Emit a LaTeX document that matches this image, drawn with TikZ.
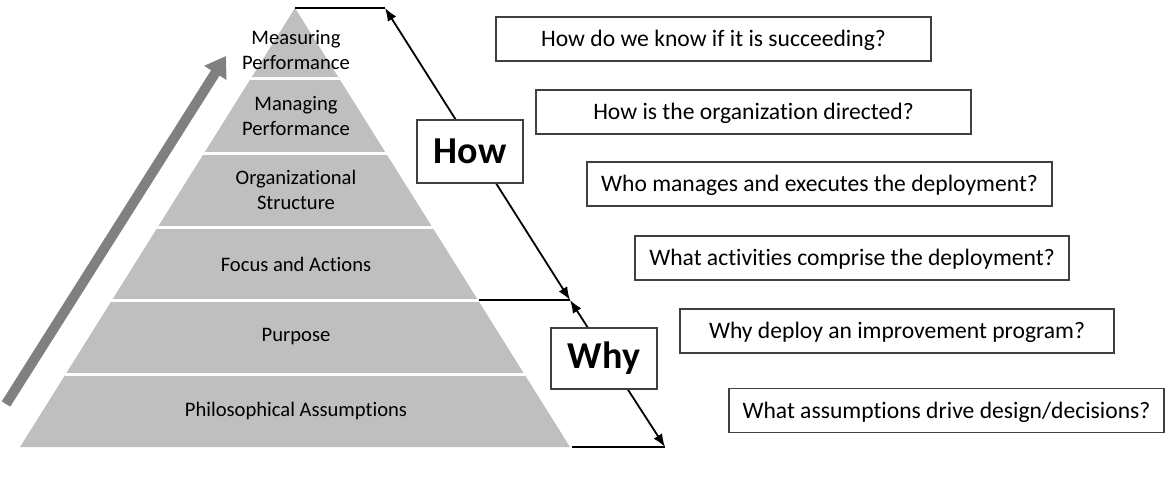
\documentclass[tikz,border=0pt]{standalone}
\usepackage{fontspec}
\setmainfont{Carlito}[Ligatures={NoCommon}]
\usetikzlibrary{arrows.meta}
\definecolor{pyr}{HTML}{BFBFBF}
\definecolor{garrow}{HTML}{808080}
\definecolor{boxline}{HTML}{3F3F3F}
\tikzset{
  qbox/.style={draw=boxline, line width=1.3pt, fill=white, minimum height=44pt, inner sep=0pt, text height=20.2pt, text depth=5pt, font=\fontsize{23.6}{28}\selectfont},
  hwbox/.style={draw=boxline, line width=1.5pt, fill=white, minimum width=106pt, inner sep=0pt, font=\fontsize{38}{44}\selectfont\bfseries},
  layerlabel/.style={align=center, font=\fontsize{20.6}{25}\selectfont, inner sep=0pt},
  thinline/.style={draw=black, line width=1.2pt},
  dblarrow/.style={draw=black, line width=1.8pt, {Latex[length=13pt,width=10pt]}-{Latex[length=13pt,width=10pt]}},
}
\begin{document}
\begin{tikzpicture}[x=1pt,y=-1pt]
\useasboundingbox (0,0) rectangle (1168,479);
% pyramid
\fill[pyr] (295,8) -- (570,447) -- (20,447) -- cycle;
\begin{scope}
\clip (295,8) -- (572,450) -- (18,450) -- cycle;
\foreach \yy in {78,153,227,300,374}
  \draw[white, line width=3pt] (0,\yy) -- (700,\yy);
\end{scope}
% layer labels
\node[layerlabel] (l6) at (296,50) {Measuring\\Performance};
\node[layerlabel] (l5) at (296,116) {Managing\\Performance};
\node[layerlabel] (l4) at (296,190) {Organizational\\Structure};
\node[layerlabel] (l3) at (296,264) {Focus and Actions};
\node[layerlabel] (l2) at (296,337) {Purpose};
\node[layerlabel] (l1) at (296,411) {Philosophical Assumptions};
% gray arrow
\coordinate (ga1) at (6,404);
\coordinate (ga2) at (226,56);
\draw[garrow, line width=10pt, -{Triangle[length=20pt,width=25pt]}] (ga1) -- (ga2);
% guide lines
\coordinate (apex) at (295,8);
\coordinate (t1) at (385,8);
\coordinate (mL) at (479,300);
\coordinate (m1) at (570,300);
\coordinate (bL) at (572,447);
\coordinate (b1) at (665,447);
\draw[thinline] (apex) -- (t1);
\draw[thinline] (mL) -- (m1);
\draw[thinline] (bL) -- (b1);
\draw[dblarrow] (t1) -- (m1);
\draw[dblarrow] (m1) -- (b1);
% how / why
\node[hwbox, minimum height=63pt] (how) at (470,151.5) {How};
\node[hwbox, minimum height=61pt] (why) at (604,358.5) {Why};
% questions
\node[qbox, minimum width=435pt] (q6) at (713.5,39) {How do we know if it is succeeding?};
\node[qbox, minimum width=435pt] (q5) at (753.5,112) {How is the organization directed?};
\node[qbox, minimum width=465pt] (q4) at (819.5,184) {Who manages and executes the deployment?};
\node[qbox, minimum width=434pt] (q3) at (852,258) {What activities comprise the deployment?};
\node[qbox, minimum width=434pt] (q2) at (897,331) {Why deploy an improvement program?};
\node[qbox, minimum width=435pt] (q1) at (946.5,410.5) {What assumptions drive design/decisions?};
\end{tikzpicture}
\end{document}
